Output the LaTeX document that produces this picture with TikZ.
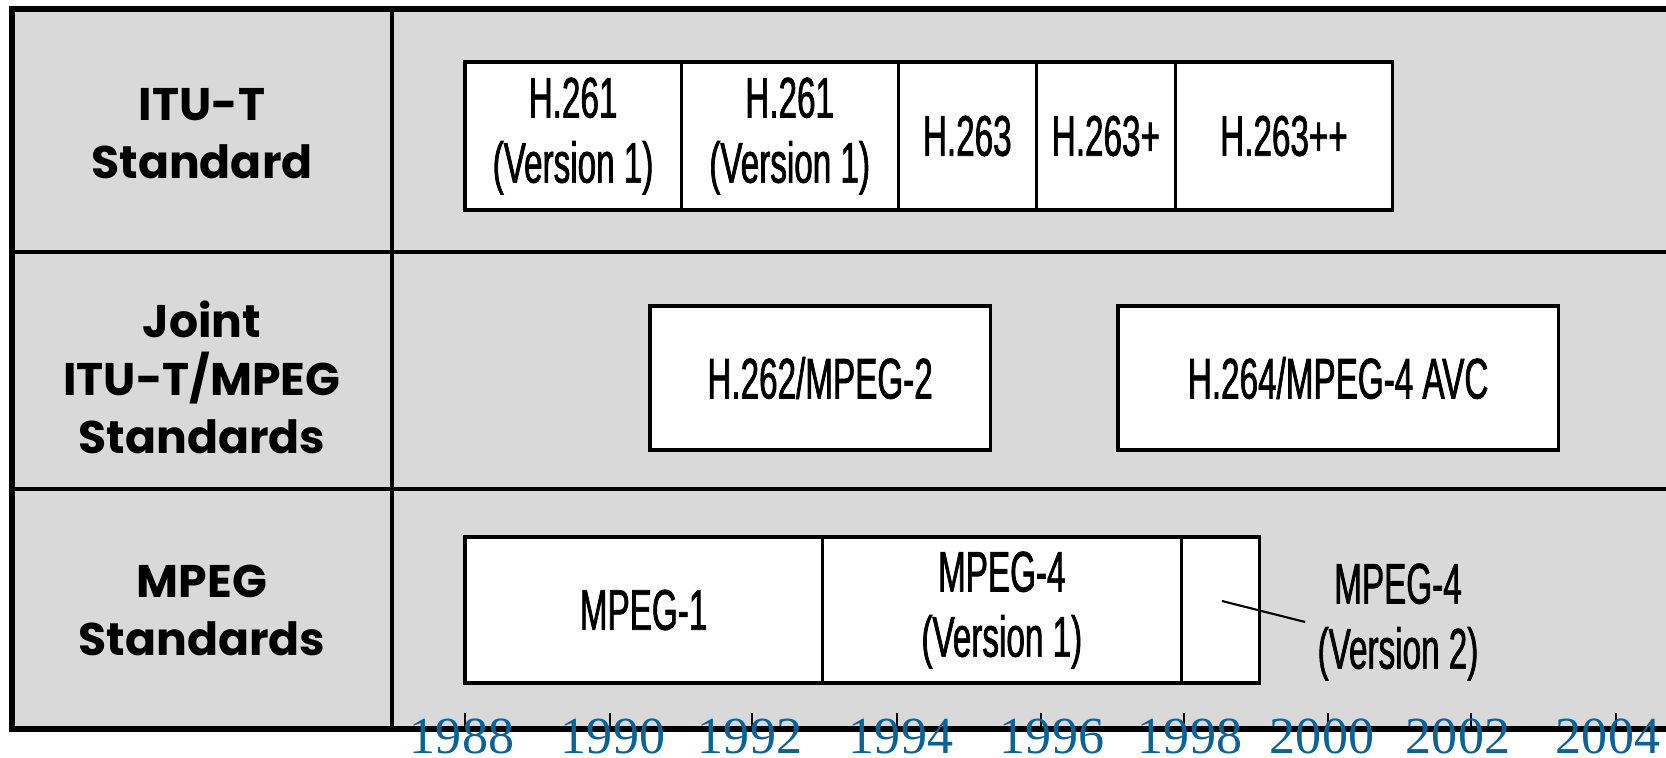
\documentclass[tikz,border=0pt]{standalone}
\usepackage{fontspec}
\usepackage{xcolor}
\usetikzlibrary{positioning}
\newfontfamily\labelfont{Poppins}
\newfontfamily\boxfont[FakeStretch=0.58, FakeBold=1.2]{Liberation Sans}
\newfontfamily\yearfont{Liberation Serif}
\definecolor{panelGray}{RGB}{217,217,217}
\definecolor{yearBlue}{RGB}{10,98,150}
\tikzset{
    rowlabel/.style={
        align=center,
        font=\labelfont\bfseries\fontsize{13}{16.5}\selectfont
    },
    stdbox/.style={
        rectangle,
        draw=black,
        line width=0.9pt,
        fill=white,
        outer sep=0pt,
        inner sep=0pt,
        align=center,
        minimum height=1.48cm,
        font=\boxfont\fontsize{16.3}{18.5}\selectfont
    },
    notetext/.style={align=center, font=\boxfont\fontsize{16.3}{18.5}\selectfont},
    yearlabel/.style={anchor=base, text=yearBlue, inner sep=0pt, font=\yearfont\fontsize{14.8}{14.8}\selectfont},
    yeartick/.style={draw=black, line width=0.4pt},
    framerule/.style={draw=black, line width=1.45pt},
    rowrule/.style={draw=black, line width=0.9pt}
}

\begin{document}
\begin{tikzpicture}[x=0.01cm, y=-0.01cm]
    \useasboundingbox (0,0) rectangle (1666,757);
    \clip (0,0) rectangle (1666,757);

    % panel and grid
    \fill[panelGray] (12,9) rectangle (1700,729);
    \draw[rowrule] (12,252) -- (1700,252);
    \draw[rowrule] (12,489) -- (1700,489);
    \draw[rowrule] (392,9) -- (392,729);
    \draw[framerule] (1700,9) -- (12,9) -- (12,729) -- (1700,729);

    % row headings
    \node[rowlabel] (itulabel) at (202,134) {ITU-T\\Standard};
    \node[rowlabel] (jointlabel) at (202,377) {Joint\\ITU-T/MPEG\\Standards};
    \node[rowlabel] (mpeglabel) at (202,610) {MPEG\\Standards};

    % ITU-T row
    \node[stdbox, minimum width=2.16cm, anchor=west] (h261a) at (465,136) {H.261\\(Version 1)};
    \node[stdbox, minimum width=2.17cm, right=0pt of h261a] (h261b) {H.261\\(Version 1)};
    \node[stdbox, minimum width=1.38cm, right=0pt of h261b] (h263) {H.263};
    \node[stdbox, minimum width=1.39cm, right=0pt of h263] (h263p) {H.263+};
    \node[stdbox, minimum width=2.17cm, right=0pt of h263p] (h263pp) {H.263++};

    % joint row
    \node[stdbox, minimum width=3.40cm, minimum height=1.44cm, anchor=west] (h262) at (650,378) {H.262/MPEG-2};
    \node[stdbox, minimum width=4.40cm, minimum height=1.44cm, anchor=west] (h264) at (1118,378) {H.264/MPEG-4 AVC};

    % MPEG row
    \node[stdbox, minimum width=3.57cm, minimum height=1.46cm, anchor=west] (mpeg1) at (465,610) {MPEG-1};
    \node[stdbox, minimum width=3.59cm, minimum height=1.46cm, right=0pt of mpeg1] (mpeg4a) {MPEG-4\\(Version 1)};
    \node[stdbox, minimum width=0.78cm, minimum height=1.46cm, right=0pt of mpeg4a] (mpeg4b) {};
    \node[notetext] (mpeg4note) at (1398,622) {MPEG-4\\(Version 2)};
    \coordinate (leadstart) at (1222,601);
    \draw[line width=0.6pt] (leadstart) -- (mpeg4note.west);

    % time axis
    \foreach \yr/\tx/\lx [count=\i] in {1988/465/462, 1990/610/613, 1992/752/750,
                1994/897/901, 1996/1041/1052, 1998/1184/1190,
                2000/1328/1322, 2002/1471/1458, 2004/1616/1608} {
        \coordinate (tick\i) at (\tx,713);
        \draw[yeartick] (tick\i) -- ++(0,15);
        \node[yearlabel] (yr\i) at (\lx,753) {\yr};
    }
\end{tikzpicture}
\end{document}
